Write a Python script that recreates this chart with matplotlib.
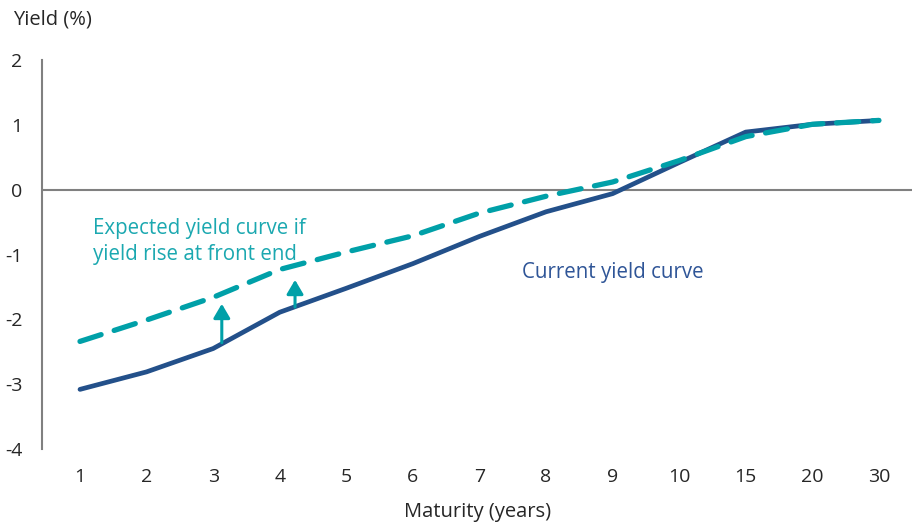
import matplotlib
matplotlib.use("Agg")
import matplotlib.pyplot as plt

plt.rcParams['font.family'] = ['Open Sans', 'DejaVu Sans']

maturities = ["1", "2", "3", "4", "5", "6", "7", "8", "9", "10", "15", "20", "30"]
current_yield = [-3.08, -2.81, -2.45, -1.89, -1.52, -1.14, -0.72, -0.34, -0.06, 0.42, 0.89, 1.01, 1.07]
expected_yield = [-2.34, -2.01, -1.66, -1.23, -0.96, -0.71, -0.36, -0.10, 0.12, 0.45, 0.82, 1.01, 1.07]
y_ticks = [-4, -3, -2, -1, 0, 1, 2]

navy = "#23508A"
teal = "#00A0A8"
teal_text = "#1BA8B0"
navy_text = "#2F5597"
ink = "#262626"

fig = plt.figure(figsize=(9.14, 5.23), dpi=100)
ax = fig.add_axes([0.046, 0.1415, 0.952, 0.7435])
x = list(range(len(maturities)))

ax.axhline(0, color="#808080", lw=1.5, zorder=1)
ax.plot(x, current_yield, color=navy, lw=3.4, solid_capstyle="round",
        solid_joinstyle="round", zorder=3)
ax.plot(x, expected_yield, color=teal, lw=3.8, linestyle=(0, (4.2, 2.6)),
        dash_capstyle="round", zorder=4)

# upward shift arrows at the front end
for xa, y0, y1 in [(2.13, -2.36, -1.76), (3.23, -1.81, -1.39)]:
    ax.annotate("", xy=(xa, y1), xytext=(xa, y0),
                arrowprops=dict(arrowstyle="-|>,head_length=0.85,head_width=0.5",
                                color=teal, lw=2.2, shrinkA=0, shrinkB=0),
                zorder=5)

ax.text(0.2, -0.8, "Expected yield curve if\nyield rise at front end",
        color=teal_text, fontsize=14.8, ha="left", va="center", linespacing=1.3)
ax.text(6.64, -1.27, "Current yield curve", color=navy_text, fontsize=14.8,
        ha="left", va="center")

ax.set_xlim(-0.57, 12.5)
ax.set_ylim(-4, 2)
ax.set_xticks(x)
ax.set_xticklabels(maturities)
ax.set_yticks(y_ticks)
ax.set_yticklabels([str(v) for v in y_ticks])
ax.tick_params(axis="x", length=0, pad=14, labelsize=14, labelcolor=ink)
ax.tick_params(axis="y", length=0, pad=14, labelsize=14, labelcolor=ink)

for side in ["top", "right", "bottom"]:
    ax.spines[side].set_visible(False)
ax.spines["left"].set_color("#808080")
ax.spines["left"].set_linewidth(1.5)

ax.set_xlabel("Maturity (years)", fontsize=14.5, color=ink, labelpad=11)
fig.text(13 / 914, 1 - 19 / 523, "Yield (%)", fontsize=14.5, color=ink,
         ha="left", va="center")

fig.savefig("out.png", dpi=100)
